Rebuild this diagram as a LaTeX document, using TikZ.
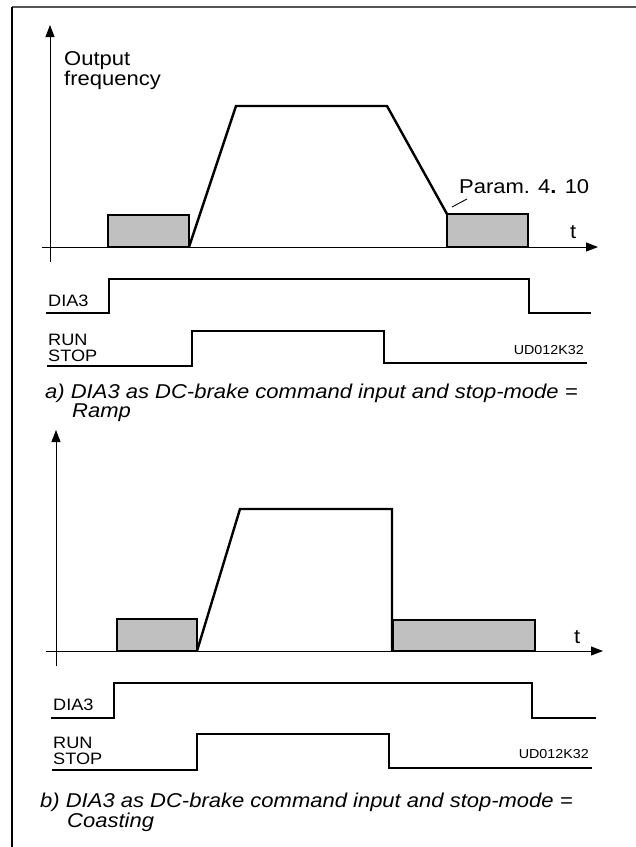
\documentclass[tikz,border=0pt]{standalone}
\usepackage{fontspec}
\setmainfont[FakeStretch=1.1]{Liberation Sans}
\usetikzlibrary{arrows.meta}
\definecolor{boxgray}{HTML}{C0C0C0}
\definecolor{framegray}{HTML}{555555}
\begin{document}
\begin{tikzpicture}[x=1pt,y=-1pt,
  axis/.style={line width=0.9pt, -{Triangle[length=12pt,width=9pt]}},
  sig/.style={line width=1.2pt, line join=miter},
  freq/.style={line width=2.4pt, line join=miter},
  brake/.style={draw=black, line width=1.4pt, fill=boxgray},
  big/.style={font=\fontsize{20}{17}\selectfont, anchor=base west, inner sep=0pt, align=left},
  captext/.style={font=\fontsize{20}{17}\selectfont\itshape, anchor=base west, inner sep=0pt, align=left},
  sml/.style={font=\fontsize{16.5}{16}\selectfont, anchor=base west, inner sep=0pt, align=left},
  code/.style={font=\fontsize{13}{14}\selectfont, anchor=base east, inner sep=0pt}]
\useasboundingbox (0,0) rectangle (636,847);
% frame
\draw[line width=2pt, draw=framegray] (12,7) -- (636,7);
\draw[line width=1.2pt] (12,7) -- (12,847);

% ---------- panel a ----------
\coordinate (ay0) at (50,262);
\coordinate (ay1) at (50,25);
\coordinate (ax0) at (42,247);
\coordinate (ax1) at (598,247);
\draw[axis] (ay0) -- (ay1);
\draw[axis] (ax0) -- (ax1);
\draw[brake] (108,215) rectangle (189,247);
\draw[brake] (447,214) rectangle (528,247);
\draw[freq] (189,247) -- (236,106) -- (387,106) -- (447,214);
% multi-line nodes: base anchor is the last line's baseline
\node[big] (aout) at (64,85) {Output\\frequency};
\node[big] (at) at (570,238) {t};
\node[big] (apar) at (459,193) {Param. 4\textbf{.} 10};
\coordinate (aleadA) at (452,207);
\coordinate (aleadB) at (467,199);
\draw[line width=0.9pt] (aleadA) -- (aleadB);
% DIA3
\draw[sig] (46,313) -- (109,313) -- (109,279) -- (529,279) -- (529,313) -- (591,313);
\node[sml] (adia) at (48,306) {DIA3};
% RUN/STOP
\draw[sig] (47,366) -- (192,366) -- (192,331) -- (384,331) -- (384,363) -- (587,363);
\node[sml] (arun) at (48,361) {RUN\\STOP};
\node[code] (aud) at (584,354) {UD012K32};
\node[captext] (acap) at (45,417) {a) DIA3 as DC-brake command input and stop-mode =\\\hspace*{27pt}Ramp};

% ---------- panel b ----------
\coordinate (by0) at (56,666);
\coordinate (by1) at (56,430);
\coordinate (bx0) at (46,651);
\coordinate (bx1) at (603,651);
\draw[axis] (by0) -- (by1);
\draw[axis] (bx0) -- (bx1);
\draw[brake] (117,619) rectangle (197,651);
\draw[brake] (393,620) rectangle (535,651);
\draw[freq] (197,651) -- (240,509) -- (392,509) -- (392,651);
\node[big] (bt) at (574,643) {t};
% DIA3
\draw[sig] (51,718) -- (114,718) -- (114,683) -- (532,683) -- (532,718) -- (596,718);
\node[sml] (bdia) at (53,710) {DIA3};
% RUN/STOP
\draw[sig] (52,770) -- (197,770) -- (197,734) -- (389,734) -- (389,768) -- (592,768);
\node[sml] (brun) at (53,764) {RUN\\STOP};
\node[code] (bud) at (589,758) {UD012K32};
\node[captext] (bcap) at (40,827) {b) DIA3 as DC-brake command input and stop-mode =\\\hspace*{27pt}Coasting};
\end{tikzpicture}
\end{document}
